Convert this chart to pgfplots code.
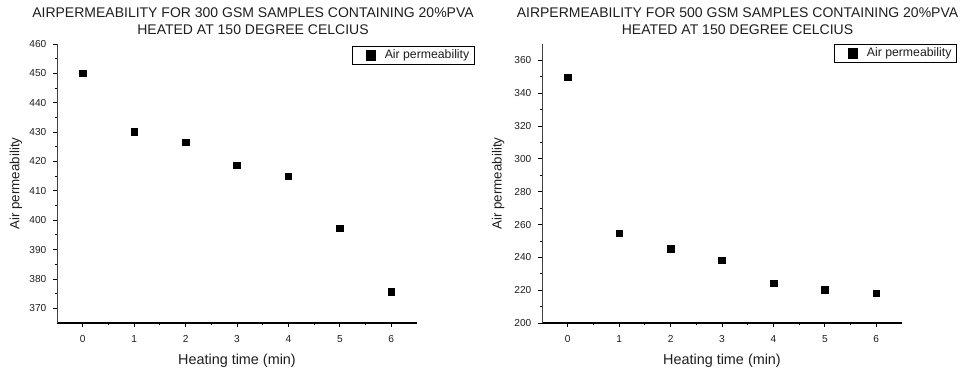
\documentclass[border=0pt]{standalone}
\usepackage{pgfplots}
\pgfplotsset{compat=1.18}
\usepackage{fontspec}
\setmainfont{Liberation Sans}
\definecolor{txt}{RGB}{30,30,30}
\pgfplotsset{
  panel/.style={
    scale only axis,
    width=270pt, height=209.25pt,
    axis x line=bottom, axis y line=left,
    axis line style={-},
    x axis line style={line width=1.1pt, black},
    y axis line style={line width=0.5pt, black!75},
    tick align=outside,
    major tick length=3pt, minor tick length=1.8pt,
    every tick/.style={black, line width=0.6pt},
    xmin=-0.5, xmax=6.5,
    xtick={0,1,2,3,4,5,6},
    minor x tick num=1,
    minor y tick num=1,
    /pgf/number format/assume math mode=true,
    ticklabel style={font=\fontsize{7.6}{8}\selectfont, text=txt},
    xticklabel style={yshift=-2.5pt},
    yticklabel style={xshift=-1.5pt},
    xlabel={Heating time (min)},
    ylabel={Air permeability},
    xlabel style={font=\fontsize{10.8}{12}\selectfont, text=txt, at={(axis description cs:0.5,0)}, anchor=center, yshift=-28.5pt},
    ylabel style={font=\fontsize{10}{12}\selectfont, text=txt, anchor=center},
    legend style={draw=black, line width=0.5pt, font=\fontsize{9.2}{10}\selectfont, text=txt,
      inner xsep=2pt, inner ysep=0.6pt, legend cell align=left},
    legend image code/.code={\path[draw=none, fill=none] (0cm,0cm) -- (0.72cm,0cm);
      \draw[only marks, mark=square*, mark size=3.6pt, black] plot coordinates {(0.42cm,0cm)};},
  },
}
\begin{document}
\begin{tikzpicture}
\useasboundingbox (0pt,0pt) rectangle (720.75pt,277.5pt);
\begin{axis}[panel, at={(42.75pt,35.25pt)}, anchor=south west,
  ymin=365, ymax=460, ytick={370,380,...,460},
  ylabel style={at={(axis description cs:-0.114,0.5)}},
  legend style={at={(1.161,0.993)}, anchor=north east}]
\addplot[only marks, mark=square*, mark size=2.5pt, black] coordinates {
(0,450) (1,430.2) (2,426.5) (3,418.7) (4,415.0) (5,397.2) (6,375.6)};
\addlegendentry{Air permeability}
\end{axis}
\begin{axis}[panel, at={(406.5pt,35.25pt)}, anchor=south west,
  ymin=200, ymax=370, ytick={200,220,...,360},
  ylabel style={at={(axis description cs:-0.122,0.5)}},
  legend style={at={(1.153,1.0)}, anchor=north east}]
\addplot[only marks, mark=square*, mark size=2.5pt, black] coordinates {
(0,349.8) (1,254.7) (2,245.3) (3,238.3) (4,224.3) (5,220.2) (6,218.2)};
\addlegendentry{Air permeability}
\end{axis}
\node[align=center, font=\fontsize{10.5}{12.75}\selectfont, text=txt] at (189.75pt,261.375pt)
  {AIRPERMEABILITY FOR 300 GSM SAMPLES CONTAINING 20\%PVA\\HEATED AT 150 DEGREE CELCIUS};
\node[align=center, font=\fontsize{10.5}{12.75}\selectfont, text=txt] at (553.125pt,261.375pt)
  {AIRPERMEABILITY FOR 500 GSM SAMPLES CONTAINING 20\%PVA\\HEATED AT 150 DEGREE CELCIUS};
\end{tikzpicture}
\end{document}
